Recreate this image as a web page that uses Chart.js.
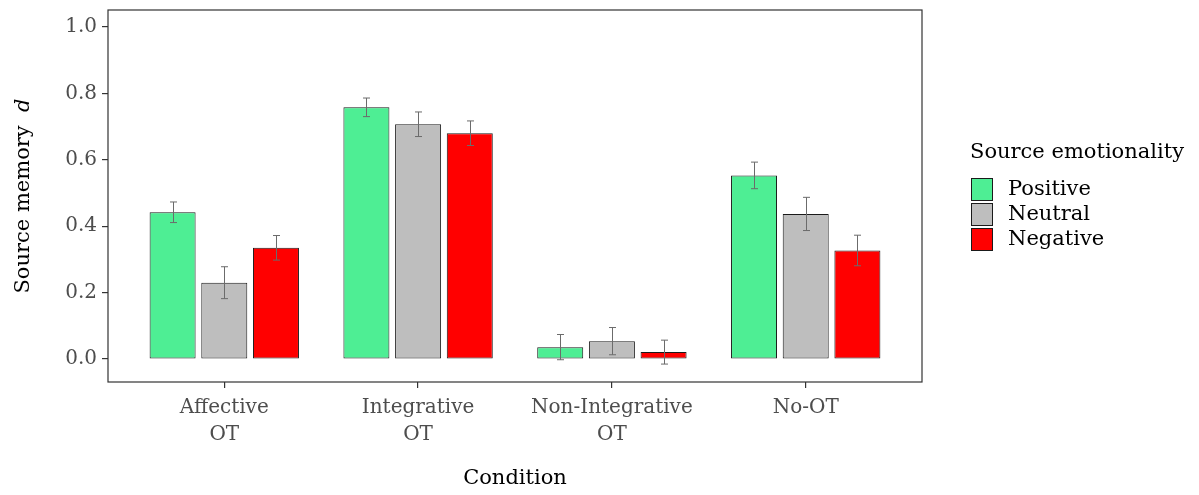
<!DOCTYPE html>
<html>
<head>
<meta charset="utf-8">
<script src="https://cdn.jsdelivr.net/npm/chart.js@4.4.1/dist/chart.umd.min.js"></script>
<style>
  html, body { margin: 0; padding: 0; background: #fff; }
  #wrap { width: 1199px; height: 495px; }
</style>
</head>
<body>
<div id="wrap"><canvas id="chart-source"></canvas></div>
<script>
// categories and series
const conditions = [['Affective', 'OT'], ['Integrative', 'OT'], ['Non-Integrative', 'OT'], ['No-OT']];
const emotions = ['Positive', 'Neutral', 'Negative'];
const colours = ['#4EEE94', '#BEBEBE', '#FF0000'];

const positive = [0.442, 0.758, 0.036, 0.553];
const neutral = [0.230, 0.707, 0.054, 0.437];
const negative = [0.335, 0.680, 0.021, 0.327];

// half width of the error bars
const positiveErr = [0.031, 0.028, 0.038, 0.040];
const neutralErr = [0.048, 0.037, 0.041, 0.050];
const negativeErr = [0.037, 0.037, 0.036, 0.046];

const yTicks = [0, 0.2, 0.4, 0.6, 0.8, 1.0];

const family = "'DejaVu Serif', serif";

function makeSet(i, values, errs) {
    return {
        label: emotions[i],
        data: values.map((v, k) => ({ x: k + 1, y: v })),
        errors: errs,
        backgroundColor: colours[i],
        borderColor: '#1a1a1a',
        borderWidth: 1,
        borderSkipped: false,
        categoryPercentage: 0.8,
        barPercentage: 0.89
    };
}

const errorBars = {
    id: 'errorBars',
    afterDatasetsDraw(chart) {
        const ctx = chart.ctx;
        const y = chart.scales.y;
        ctx.save();
        ctx.strokeStyle = '#6b6b6b';
        ctx.lineWidth = 1;
        chart.data.datasets.forEach((ds, di) => {
            chart.getDatasetMeta(di).data.forEach((bar, k) => {
                const v = ds.data[k].y, e = ds.errors[k];
                const top = y.getPixelForValue(v + e);
                const bot = y.getPixelForValue(v - e);
                const x = Math.round(bar.x) + 0.5;
                ctx.beginPath();
                ctx.moveTo(x, top); ctx.lineTo(x, bot);
                ctx.moveTo(x - 3.5, top); ctx.lineTo(x + 3.5, top);
                ctx.moveTo(x - 3.5, bot); ctx.lineTo(x + 3.5, bot);
                ctx.stroke();
            });
        });
        ctx.restore();
    }
};

// panel border, axis titles and the legend, ggplot style
const frame = {
    id: 'frame',
    afterDraw(chart) {
        const ctx = chart.ctx;
        const a = chart.chartArea;
        ctx.save();
        ctx.strokeStyle = '#333333';
        ctx.lineWidth = 1.2;
        ctx.strokeRect(a.left, a.top, a.right - a.left, a.bottom - a.top);

        // y title with italic d
        ctx.fillStyle = '#000';
        ctx.textBaseline = 'middle';
        ctx.textAlign = 'left';
        ctx.translate(24, (a.top + a.bottom) / 2);
        ctx.rotate(-Math.PI / 2);
        ctx.font = '21px ' + family;
        const part1 = 'Source memory  ';
        const w1 = ctx.measureText(part1).width;
        ctx.font = 'italic 21px ' + family;
        const w2 = ctx.measureText('d').width;
        let sx = -(w1 + w2) / 2;
        ctx.font = '21px ' + family;
        ctx.fillText(part1, sx, 0);
        ctx.font = 'italic 21px ' + family;
        ctx.fillText('d', sx + w1, 0);
        ctx.setTransform(1, 0, 0, 1, 0, 0);

        // x title
        ctx.font = '21px ' + family;
        ctx.textAlign = 'center';
        ctx.fillText('Condition', (a.left + a.right) / 2, 479);

        // legend
        ctx.textAlign = 'left';
        ctx.fillText('Source emotionality', 970, 153);
        chart.data.datasets.forEach((ds, i) => {
            const top = 178 + i * 25;
            ctx.fillStyle = ds.backgroundColor;
            ctx.fillRect(971, top, 22, 23);
            ctx.strokeStyle = '#1a1a1a';
            ctx.lineWidth = 1;
            ctx.strokeRect(971.5, top + 0.5, 21, 22);
            ctx.fillStyle = '#000';
            ctx.fillText(ds.label, 1008, top + 12);
        });
        ctx.restore();
    }
};

new Chart(document.getElementById('chart-source'), {
    type: 'bar',
    data: {
        datasets: [
            makeSet(0, positive, positiveErr),
            makeSet(1, neutral, neutralErr),
            makeSet(2, negative, negativeErr)
        ]
    },
    options: {
        responsive: true,
        maintainAspectRatio: false,
        animation: false,
        layout: { padding: { top: 10, right: 277, left: 0, bottom: 0 } },
        plugins: {
            legend: { display: false },
            tooltip: { enabled: false }
        },
        scales: {
            x: {
                type: 'linear',
                min: 0.4,
                max: 4.6,
                offset: false,
                afterBuildTicks: s => { s.ticks = conditions.map((c, i) => ({ value: i + 1 })); },
                afterFit: s => { s.height = 113; s.paddingLeft = 0; s.paddingRight = 0; },
                grid: { offset: false, drawOnChartArea: false, drawTicks: true, tickLength: 6, color: '#333333', lineWidth: 1.2 },
                border: { display: false },
                ticks: {
                    callback: (v, i) => conditions[i],
                    color: '#4d4d4d',
                    font: { family: family, size: 20, lineHeight: 1.35 },
                    padding: 6,
                    maxRotation: 0,
                    autoSkip: false
                }
            },
            y: {
                min: -0.069,
                max: 1.051,
                afterBuildTicks: s => { s.ticks = yTicks.map(v => ({ value: v })); },
                afterFit: s => { s.width = 108; s.paddingTop = 0; s.paddingBottom = 0; },
                grid: { drawOnChartArea: false, drawTicks: true, tickLength: 6, color: '#333333', lineWidth: 1.2 },
                border: { display: false },
                ticks: {
                    callback: v => v.toFixed(1),
                    color: '#4d4d4d',
                    font: { family: family, size: 20 },
                    padding: 5
                }
            }
        }
    },
    plugins: [errorBars, frame]
});
</script>
</body>
</html>
